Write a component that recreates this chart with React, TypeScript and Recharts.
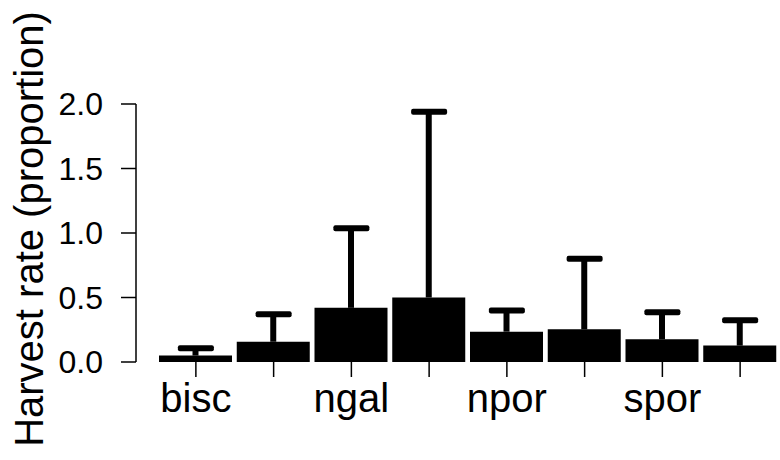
import { ComposedChart, Bar, Line, XAxis, YAxis, ErrorBar } from "recharts";

// harvest rate per bar, two bars per region
const regions = ["bisc", "bisc", "ngal", "ngal", "npor", "npor", "spor", "spor"];
const rates = [0.05, 0.157, 0.42, 0.5, 0.235, 0.253, 0.176, 0.127];
const upperLimits = [0.106, 0.37, 1.036, 1.94, 0.4, 0.8, 0.385, 0.323];
const yTicks = [0, 0.5, 1, 1.5, 2];

const rows = regions.map((name, i) => ({
    name,
    rate: rates[i],
    upper: upperLimits[i],
    err: [0, upperLimits[i] - rates[i]],
}));

const font = "'Liberation Sans', Arial, Helvetica, sans-serif";

const YTitle = () => (
    <text
        x={43}
        y={229}
        transform="rotate(-90, 43, 229)"
        textAnchor="middle"
        fontSize={40}
        fontFamily={font}
        fill="#000"
    >
        Harvest rate (proportion)
    </text>
);

// flat cap on top of each whisker
const Cap = (props: any) => {
    const { cx, cy } = props;
    if (cx == null || cy == null) return null;
    return <rect x={cx - 18} y={cy - 3} width={36} height={6} rx={2} fill="#000" />;
};

export default function App() {
    return (
        <div
            style={{
                position: "absolute",
                left: 0,
                top: 0,
                width: 780,
                height: 460,
                background: "#fff",
            }}
        >
            <ComposedChart
                width={780}
                height={460}
                data={rows}
                margin={{ top: 104, right: 1, bottom: 0, left: 0 }}
                style={{ fontFamily: font }}
            >
                <XAxis
                    dataKey="name"
                    height={98}
                    axisLine={false}
                    tickLine={{ stroke: "#000", strokeWidth: 1.5 }}
                    tickSize={15}
                    tickMargin={7}
                    interval={0}
                    padding={{ left: 21, right: 0 }}
                    tick={{ fill: "#000", fontSize: 40, fontFamily: font }}
                    tickFormatter={(v: string, i: number) => (i % 2 === 0 ? v : "")}
                />
                <YAxis
                    width={136}
                    domain={[0, 2]}
                    ticks={yTicks}
                    tickFormatter={(v: number) => v.toFixed(1)}
                    axisLine={{ stroke: "#000", strokeWidth: 1.5 }}
                    tickLine={{ stroke: "#000", strokeWidth: 1.5 }}
                    tickSize={15}
                    tickMargin={18}
                    tick={{ fill: "#000", fontSize: 32, fontFamily: font }}
                    label={<YTitle />}
                />
                <Bar dataKey="rate" fill="#000" barSize={73} isAnimationActive={false}>
                    {/* width 0: only the stem, caps come from the line below */}
                    <ErrorBar
                        dataKey="err"
                        direction="y"
                        width={0}
                        strokeWidth={6}
                        stroke="#000"
                        isAnimationActive={false}
                    />
                </Bar>
                <Line
                    dataKey="upper"
                    stroke="none"
                    dot={<Cap />}
                    activeDot={false}
                    isAnimationActive={false}
                />
            </ComposedChart>
        </div>
    );
}
